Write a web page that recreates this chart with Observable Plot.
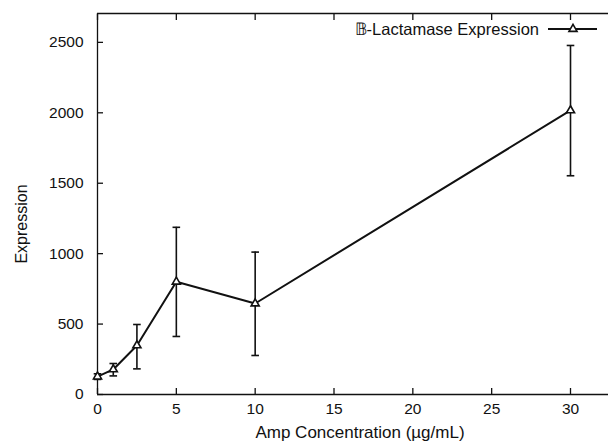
<!DOCTYPE html>
<html><head><meta charset="utf-8">
<script src="https://cdn.jsdelivr.net/npm/d3@7"></script>
<script src="https://cdn.jsdelivr.net/npm/@observablehq/plot@0.6"></script>
<style>body{margin:0;background:#fff} #chart{width:608px;height:444px}</style>
</head><body><div id="chart"></div>
<script>
const concentration = [0, 1, 2.5, 5, 10, 30];
const expression = [127, 178, 348, 800, 646, 2017];
const errorLow = [107, 132, 182, 412, 277, 1553];
const errorHigh = [147, 220, 497, 1187, 1011, 2478];
const xTicks = [0, 5, 10, 15, 20, 25, 30];
const yTicks = [0, 500, 1000, 1500, 2000, 2500];
const seriesName = "𝔹-Lactamase Expression";
const xLabel = "Amp Concentration (µg/mL)";
const yLabel = "Expression";

const rows = concentration.map((c, i) => ({c, v: expression[i], lo: errorLow[i], hi: errorHigh[i]}));

const capSymbol = {draw(ctx, size) { const w = Math.sqrt(size / Math.PI); ctx.moveTo(-w, 0); ctx.lineTo(w, 0); }};
const ink = "#111";

const chart = Plot.plot({
  width: 608, height: 444,
  marginLeft: 97, marginRight: 0, marginTop: 13, marginBottom: 50,
  style: {fontFamily: "'Liberation Sans', Arial, sans-serif", fontSize: "15.5px", color: ink, background: "#fff"},
  x: {domain: [0, 32.41]},
  y: {domain: [0, 2705]},
  marks: [
    Plot.axisX(xTicks, {anchor: "bottom", tickSize: -6, tickPadding: 14, label: null, stroke: ink, strokeWidth: 1.3}),
    Plot.axisX(xTicks, {anchor: "top", tickSize: -6, tickFormat: () => "", label: null, stroke: ink, strokeWidth: 1.3}),
    Plot.axisY(yTicks, {anchor: "left", tickSize: -6, tickPadding: 20, tickFormat: d3.format("d"), label: null, stroke: ink, strokeWidth: 1.3}),
    Plot.ruleY([0], {stroke: ink, strokeWidth: 1.3}),
    Plot.ruleY([2705], {stroke: ink, strokeWidth: 1.3}),
    Plot.ruleX([0], {stroke: ink, strokeWidth: 1.3}),
    Plot.ruleX(rows, {x: "c", y1: "lo", y2: "hi", stroke: ink, strokeWidth: 1.6}),
    Plot.dot(rows, {x: "c", y: "lo", symbol: capSymbol, r: 3.8, stroke: ink, strokeWidth: 1.6, fill: "none"}),
    Plot.dot(rows, {x: "c", y: "hi", symbol: capSymbol, r: 3.8, stroke: ink, strokeWidth: 1.6, fill: "none"}),
    Plot.line(rows, {x: "c", y: "v", stroke: ink, strokeWidth: 2}),
    Plot.dot(rows, {x: "c", y: "v", symbol: "triangle", r: 3, stroke: ink, strokeWidth: 1.6, fill: "#fff"}),
    Plot.text([xLabel], {text: d => d, frameAnchor: "bottom", dy: 43, dx: 7, fill: ink, fontSize: 17}),
    Plot.text([yLabel], {text: d => d, frameAnchor: "left", textAnchor: "middle", rotate: -90, dx: -76, dy: 20, fill: ink, fontSize: 16})
  ]
});
document.getElementById("chart").appendChild(chart);

const svg = d3.select(chart);
const lg = svg.append("g");
lg.append("text").attr("x", 539).attr("y", 29).attr("text-anchor", "end").attr("dy", "0.35em")
  .attr("fill", ink).style("font-size", "16.5px").text(seriesName);
lg.append("line").attr("x1", 548).attr("x2", 597).attr("y1", 29).attr("y2", 29).attr("stroke", ink).attr("stroke-width", 2);
lg.append("path").attr("d", d3.symbol(d3.symbolTriangle, Math.PI * 9)()).attr("transform", "translate(573,29)")
  .attr("fill", "#fff").attr("stroke", ink).attr("stroke-width", 1.6);
</script>
</body></html>
